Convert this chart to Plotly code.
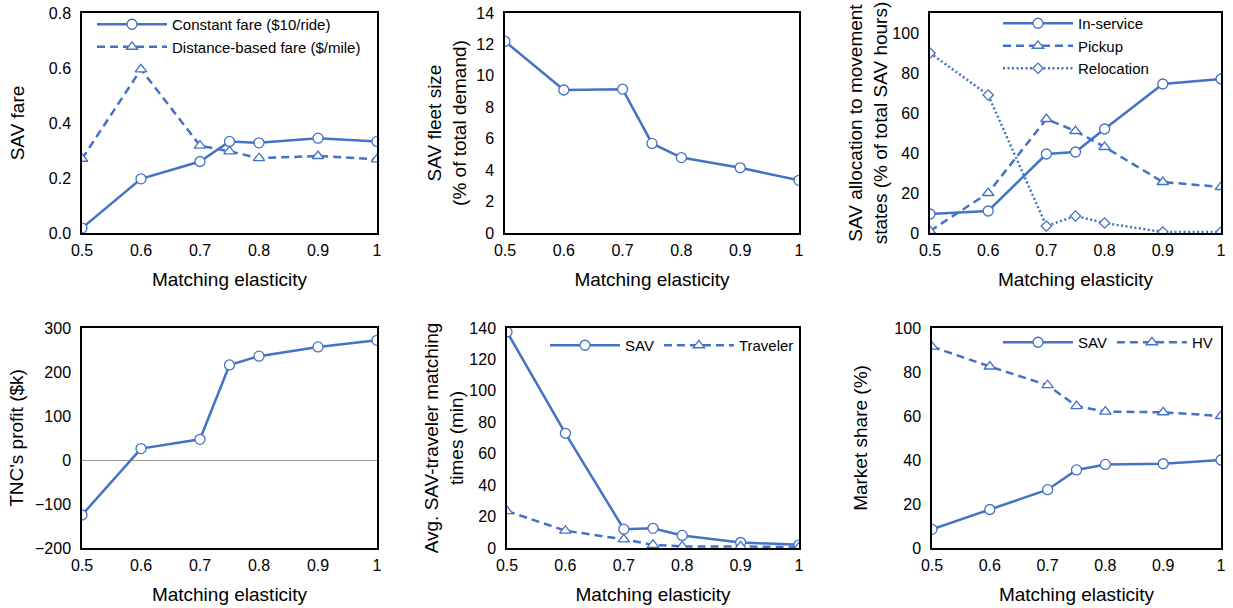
import plotly.graph_objects as go

x = [0.5, 0.6, 0.7, 0.75, 0.8, 0.9, 1.0]
xticks = [0.5, 0.6, 0.7, 0.8, 0.9, 1.0]
xticklabels = ["0.5", "0.6", "0.7", "0.8", "0.9", "1"]

fare_constant = [0.018, 0.197, 0.260, 0.333, 0.328, 0.345, 0.333]
fare_distance = [0.270, 0.595, 0.318, 0.297, 0.272, 0.280, 0.268]

fleet_size = [12.2, 9.1, 9.15, 5.7, 4.8, 4.15, 3.35]

alloc_inservice = [9.5, 11.0, 39.5, 40.5, 52.0, 74.5, 77.0]
alloc_pickup = [1.0, 20.0, 57.0, 51.0, 43.0, 25.5, 23.0]
alloc_relocation = [90.0, 69.0, 3.5, 8.5, 5.0, 0.5, 0.5]

profit = [-125, 26, 47, 216, 236, 257, 272]

match_sav = [137.5, 73.0, 12.0, 12.5, 8.0, 3.5, 2.0]
match_traveler = [23.5, 11.0, 5.5, 2.0, 1.0, 1.0, 0.5]

share_sav = [8.5, 17.5, 26.5, 35.5, 38.0, 38.3, 40.0]
share_hv = [91.5, 82.5, 74.0, 64.5, 62.0, 61.7, 60.0]

BLUE = "#4472C4"
W, H = 1233, 608
FONT = "Liberation Sans, Arial, sans-serif"
DASH = "8px,5px"
DOT = "2px,2.5px"

fig = go.Figure()

def add(y, name, xa, ya, dash, symbol, legend, show=True, size=10):
    fig.add_trace(go.Scatter(
        x=x, y=y, name=name, mode="lines+markers",
        xaxis=xa, yaxis=ya,
        line=dict(color=BLUE, width=2.5, dash=dash),
        marker=dict(symbol=symbol, size=size, color="white",
                    line=dict(color=BLUE, width=1.3)),
        legend=legend, showlegend=show,
    ))

add(fare_constant, "Constant fare ($10/ride)", "x", "y", "solid", "circle", "legend")
add(fare_distance, "Distance-based fare ($/mile)", "x", "y", DASH, "triangle-up", "legend")
add(fleet_size, "Fleet", "x2", "y2", "solid", "circle", "legend", False)
add(alloc_inservice, "In-service", "x3", "y3", "solid", "circle", "legend2")
add(alloc_pickup, "Pickup", "x3", "y3", DASH, "triangle-up", "legend2")
add(alloc_relocation, "Relocation", "x3", "y3", DOT, "diamond", "legend2", size=8)
add(profit, "Profit", "x4", "y4", "solid", "circle", "legend", False)
add(match_sav, "SAV", "x5", "y5", "solid", "circle", "legend3")
add(match_traveler, "Traveler", "x5", "y5", DASH, "triangle-up", "legend3")
add(share_sav, "SAV", "x6", "y6", "solid", "circle", "legend4")
add(share_hv, "HV", "x6", "y6", DASH, "triangle-up", "legend4")

# panel boxes in pixels: (left, right, top, bottom)
boxes = [
    (82, 377, 13, 233),
    (505, 799, 13, 233),
    (930, 1221, 13, 233),
    (82, 377, 328, 548),
    (507, 799, 328, 548),
    (932, 1221, 328, 548),
]
yspecs = [
    dict(range=[0, 0.8], dtick=0.2, tickformat=".1f", title="SAV fare", standoff=19),
    dict(range=[0, 14], dtick=2, title="SAV fleet size<br>(% of total demand)", standoff=5),
    dict(range=[0, 110], tickvals=[0, 20, 40, 60, 80, 100],
         title="SAV allocation to movement<br>states (% of total SAV hours)", standoff=0),
    dict(range=[-200, 300], dtick=100, title="TNC's profit ($k)", standoff=6),
    dict(range=[0, 140], dtick=20, title="Avg. SAV-traveler matching<br>times (min)", standoff=1),
    dict(range=[0, 100], dtick=20, title="Market share (%)", standoff=22),
]

layout = dict(
    width=W, height=H,
    margin=dict(l=0, r=0, t=0, b=0, autoexpand=False),
    paper_bgcolor="white", plot_bgcolor="white",
    font=dict(family=FONT, size=16, color="black"),
)
for i, ((l, r, t, b), ys) in enumerate(zip(boxes, yspecs)):
    n = "" if i == 0 else str(i + 1)
    layout["xaxis" + n] = dict(
        domain=[l / W, r / W], anchor="y" + n, automargin=False,
        range=[0.5, 1.0], tickvals=xticks, ticktext=xticklabels,
        showgrid=False, zeroline=False,
        showline=True, linecolor="black", linewidth=1.5, mirror=True,
        ticks="", ticklabelstandoff=2,
        title=dict(text="Matching elasticity", standoff=15),
    )
    yax = dict(
        domain=[1 - b / H, 1 - t / H], anchor="x" + n, automargin=False,
        showgrid=False, zeroline=False,
        showline=True, linecolor="black", linewidth=1.5, mirror=True,
        ticks="", ticklabelstandoff=6,
    )
    title = ys.pop("title")
    standoff = ys.pop("standoff")
    yax.update(ys)
    yax["title"] = dict(text=title, standoff=standoff)
    layout["yaxis" + n] = yax

layout["yaxis4"]["zeroline"] = True
layout["yaxis4"]["zerolinecolor"] = "#999999"
layout["yaxis4"]["zerolinewidth"] = 1.2

leg_common = dict(bgcolor="rgba(0,0,0,0)", font=dict(family=FONT, size=15),
                  itemwidth=70, tracegroupgap=0, xanchor="left", yanchor="top")
layout["legend"] = dict(leg_common, x=92 / W, y=1 - 8 / H, orientation="v")
layout["legend2"] = dict(leg_common, x=998 / W, y=1 - 7 / H, orientation="v")
layout["legend3"] = dict(leg_common, x=545 / W, y=1 - 329 / H, orientation="h")
layout["legend4"] = dict(leg_common, x=998 / W, y=1 - 326 / H, orientation="h")

fig.update_layout(**layout)
fig.write_html("out.html")
